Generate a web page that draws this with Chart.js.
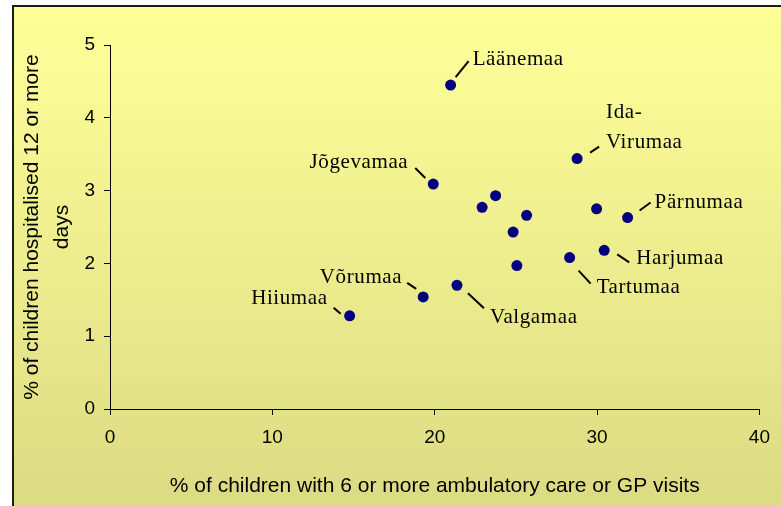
<!DOCTYPE html>
<html>
<head>
<meta charset="utf-8">
<script src="https://cdn.jsdelivr.net/npm/chart.js@4"></script>
<style>
  html, body { margin: 0; padding: 0; background: #ffffff; }
  #chart { display: block; }
</style>
</head>
<body>
<canvas id="chart" width="781" height="506"></canvas>
<script>
// Estonian counties: % of children with 6+ ambulatory/GP visits vs % hospitalised 12+ days
const regions = ['Läänemaa', 'Ida-Virumaa', 'Jõgevamaa', null, null, null, null, null,
                 'Pärnumaa', 'Harjumaa', 'Tartumaa', null, 'Valgamaa', 'Võrumaa', 'Hiiumaa'];
const ambulatoryPct   = [20.98, 28.77, 19.91, 23.75, 22.92, 25.66, 24.83, 29.97,
                         31.88, 30.44, 28.31, 25.06, 21.37, 19.29, 14.76];
const hospitalisedPct = [4.45, 3.44, 3.09, 2.93, 2.77, 2.66, 2.43, 2.75,
                         2.63, 2.18, 2.08, 1.97, 1.70, 1.54, 1.28];
const xTicks = [0, 10, 20, 30, 40];
const yTicks = [0, 1, 2, 3, 4, 5];
const xTitle = '% of children with 6 or more ambulatory care or GP visits';
const yTitle = ['% of children hospitalised 12 or more', 'days'];

// Label placement relative to each point (pixels): leader line from/to, text anchor
const labelLayout = {
  'Läänemaa':    { line: [5, -8, 18, -24],  text: [22, -20], align: 'left' },
  'Ida-Virumaa': { line: [13, -6, 22, -12], text: [29, -41], align: 'left', wrap: true },
  'Jõgevamaa':   { line: [-18, -16, -8, -6], text: [-25, -16], align: 'right' },
  'Pärnumaa':    { line: [12, -7, 23, -15], text: [27, -10], align: 'left' },
  'Harjumaa':    { line: [13, 4, 25, 12],   text: [32, 14],  align: 'left' },
  'Tartumaa':    { line: [9, 13, 21, 26],   text: [27, 35],  align: 'left' },
  'Valgamaa':    { line: [11, 8, 27, 23],   text: [33, 38],  align: 'left' },
  'Võrumaa':     { line: [-16, -14, -7, -8], text: [-21, -14], align: 'right' },
  'Hiiumaa':     { line: [-16, -8, -9, -2], text: [-22, -12], align: 'right' }
};

const points = ambulatoryPct.map((x, i) => ({ x: x, y: hospitalisedPct[i] }));

// Page frame: white margin, dark top/left rule, yellow gradient panel
const framePlugin = {
  id: 'frame',
  beforeDraw(chart) {
    const ctx = chart.ctx;
    const W = chart.width, H = chart.height;
    ctx.save();
    ctx.fillStyle = '#ffffff';
    ctx.fillRect(0, 0, W, H);
    const g = ctx.createLinearGradient(0, 7, 0, H);
    g.addColorStop(0, '#FFFF99');
    g.addColorStop(1, '#DCDB84');
    ctx.fillStyle = g;
    ctx.fillRect(14, 7, W - 14, H - 7);
    ctx.fillStyle = '#1c1c1c';
    ctx.fillRect(12, 5, W - 12, 2);
    ctx.fillRect(12, 5, 2, H - 5);
    ctx.restore();
  }
};

// County names with leader lines
const labelPlugin = {
  id: 'countyLabels',
  afterDatasetsDraw(chart) {
    const ctx = chart.ctx;
    const meta = chart.getDatasetMeta(0);
    ctx.save();
    ctx.font = '21px "Liberation Serif", "Times New Roman", serif';
    if ('letterSpacing' in ctx) ctx.letterSpacing = '0.6px';
    ctx.fillStyle = '#000000';
    ctx.strokeStyle = '#000000';
    ctx.lineWidth = 2;
    ctx.textBaseline = 'alphabetic';
    regions.forEach((name, i) => {
      if (!name || !labelLayout[name]) return;
      const el = meta.data[i];
      const px = el.x, py = el.y;
      const L = labelLayout[name];
      ctx.beginPath();
      ctx.moveTo(px + L.line[0], py + L.line[1]);
      ctx.lineTo(px + L.line[2], py + L.line[3]);
      ctx.stroke();
      ctx.textAlign = L.align;
      const lines = L.wrap ? name.replace('-', '-\n').split('\n') : [name];
      lines.forEach((t, k) => {
        ctx.fillText(t, px + L.text[0], py + L.text[1] + k * 30);
      });
    });
    ctx.restore();
  }
};

const tickFont = { family: '"Liberation Sans", Arial, sans-serif', size: 19 };
const titleFont = { family: '"Liberation Sans", Arial, sans-serif', size: 21 };

new Chart(document.getElementById('chart'), {
  type: 'scatter',
  data: {
    datasets: [{
      data: points,
      backgroundColor: '#000080',
      borderColor: '#000080',
      borderWidth: 0,
      pointRadius: 5.5,
      pointHoverRadius: 5.5
    }]
  },
  options: {
    responsive: false,
    animation: false,
    devicePixelRatio: 1,
    layout: { padding: { left: 0, top: 45, right: 21, bottom: 0 } },
    plugins: { legend: { display: false }, tooltip: { enabled: false } },
    scales: {
      x: {
        type: 'linear',
        min: xTicks[0],
        max: xTicks[xTicks.length - 1],
        afterBuildTicks(scale) { scale.ticks = xTicks.map(v => ({ value: v })); },
        afterFit(scale) { scale.height = 97; },
        grid: { drawOnChartArea: false, drawTicks: true, tickLength: 6, color: '#000000', lineWidth: 1 },
        border: { display: true, color: '#000000', width: 1 },
        ticks: { color: '#000000', font: tickFont, padding: 11, maxRotation: 0 },
        title: { display: true, text: xTitle, color: '#000000', font: titleFont, padding: { top: 0, bottom: 7 } }
      },
      y: {
        type: 'linear',
        min: yTicks[0],
        max: yTicks[yTicks.length - 1],
        afterBuildTicks(scale) { scale.ticks = yTicks.map(v => ({ value: v })); },
        afterFit(scale) { scale.width = 110; },
        grid: { drawOnChartArea: false, drawTicks: true, tickLength: 6, color: '#000000', lineWidth: 1 },
        border: { display: true, color: '#000000', width: 1 },
        ticks: { color: '#000000', font: tickFont, padding: 9 },
        title: { display: true, text: yTitle, color: '#000000',
                 font: Object.assign({ lineHeight: 1.43 }, titleFont), padding: { top: 17, bottom: 0 } }
      }
    }
  },
  plugins: [framePlugin, labelPlugin]
});
</script>
</body>
</html>
